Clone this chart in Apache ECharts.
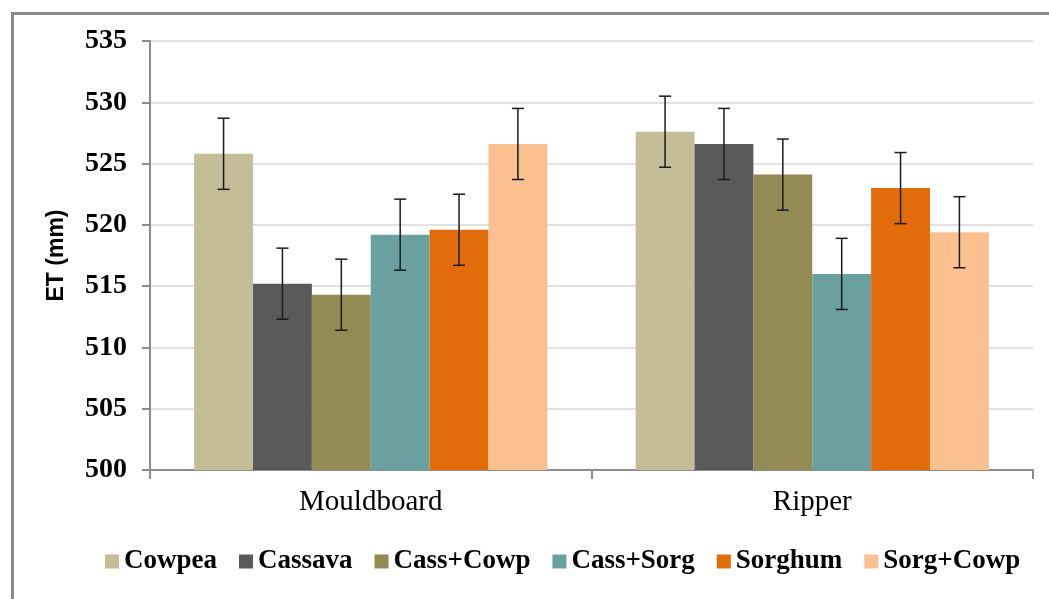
<!DOCTYPE html>
<html>
<head>
<meta charset="utf-8">
<script src="https://cdn.jsdelivr.net/npm/echarts@6/dist/echarts.min.js"></script>
<style>html,body{margin:0;padding:0;background:#fff;}#c{width:1049px;height:599px;}</style>
</head>
<body>
<div id="c"></div>
<script>
const categories = ['Mouldboard', 'Ripper'];
const seriesNames = ['Cowpea', 'Cassava', 'Cass+Cowp', 'Cass+Sorg', 'Sorghum', 'Sorg+Cowp'];
const cowpea   = [525.8, 527.6];
const cassava  = [515.2, 526.6];
const cassCowp = [514.3, 524.1];
const cassSorg = [519.2, 516.0];
const sorghum  = [519.6, 523.0];
const sorgCowp = [526.6, 519.4];
const errCowpea   = [2.9, 2.9];
const errCassava  = [2.9, 2.9];
const errCassCowp = [2.9, 2.9];
const errCassSorg = [2.9, 2.9];
const errSorghum  = [2.9, 2.9];
const errSorgCowp = [2.9, 2.9];
const yTicks = [500, 505, 510, 515, 520, 525, 530, 535];

const values = [cowpea, cassava, cassCowp, cassSorg, sorghum, sorgCowp];
const errors = [errCowpea, errCassava, errCassCowp, errCassSorg, errSorghum, errSorgCowp];
const colors = ['#c4bd97', '#595959', '#948a54', '#6aa09f', '#e36c0a', '#fac090'];
const catGap = 0.2;
const nS = seriesNames.length;

const series = [];
values.forEach((v, i) => {
  series.push({
    name: seriesNames[i], type: 'bar', data: v, barGap: '0%', barCategoryGap: '20%',
    itemStyle: { color: colors[i] }, z: 2
  });
});
values.forEach((v, i) => {
  series.push({
    type: 'custom', name: seriesNames[i] + ' err', z: 5, silent: true,
    data: v.map((val, j) => [j, val - errors[i][j], val + errors[i][j]]),
    renderItem: function (params, api) {
      const cat = api.value(0);
      const lo = api.coord([cat, api.value(1)]);
      const hi = api.coord([cat, api.value(2)]);
      const catW = api.size([1, 0])[0];
      const bw = catW * (1 - catGap) / nS;
      const x = lo[0] - catW * (1 - catGap) / 2 + (i + 0.5) * bw;
      const cap = 6;
      const st = { stroke: '#1a1a1a', lineWidth: 1.5 };
      return {
        type: 'group', children: [
          { type: 'line', shape: { x1: x, y1: lo[1], x2: x, y2: hi[1] }, style: st },
          { type: 'line', shape: { x1: x - cap, y1: lo[1], x2: x + cap, y2: lo[1] }, style: st },
          { type: 'line', shape: { x1: x - cap, y1: hi[1], x2: x + cap, y2: hi[1] }, style: st }
        ]
      };
    }
  });
});

const chart = echarts.init(document.getElementById('c'));
chart.setOption({
  animation: false,
  backgroundColor: '#fff',
  graphic: [{
    type: 'rect', left: 10, top: 11, z: -1,
    shape: { width: 1100, height: 700 },
    style: { fill: 'none', stroke: '#8a8a8a', lineWidth: 3 }
  }],
  grid: { left: 150, right: 16, top: 41, bottom: 129 },
  legend: {
    data: seriesNames, left: 100, top: 543, itemWidth: 14, itemHeight: 14, itemGap: 22,
    icon: 'rect',
    textStyle: { fontFamily: 'Liberation Serif', fontWeight: 'bold', fontSize: 27, color: '#000', padding: [0, 0, 0, 0] }
  },
  xAxis: {
    type: 'category', data: categories,
    axisLine: { lineStyle: { color: '#8c8c8c', width: 2 } },
    axisTick: { show: true, length: 9, lineStyle: { color: '#8c8c8c', width: 2 } },
    axisLabel: { fontFamily: 'Liberation Serif', fontSize: 29, color: '#000', margin: 18 }
  },
  yAxis: {
    type: 'value', min: 500, max: 535, interval: 5,
    name: 'ET (mm)', nameLocation: 'middle', nameGap: 82, nameRotate: 90,
    nameTextStyle: { fontFamily: 'Liberation Sans', fontWeight: 'bold', fontSize: 23, color: '#000' },
    axisLine: { show: true, lineStyle: { color: '#8c8c8c', width: 2 } },
    axisTick: { show: true, length: 8, lineStyle: { color: '#8c8c8c', width: 2 } },
    splitLine: { lineStyle: { color: '#d9d9d9', width: 1.5 } },
    axisLabel: {
      fontFamily: 'Liberation Serif', fontWeight: 'bold', fontSize: 28, color: '#000', margin: 23,
      formatter: v => yTicks.includes(v) ? String(v) : ''
    }
  },
  series: series
});
</script>
</body>
</html>
